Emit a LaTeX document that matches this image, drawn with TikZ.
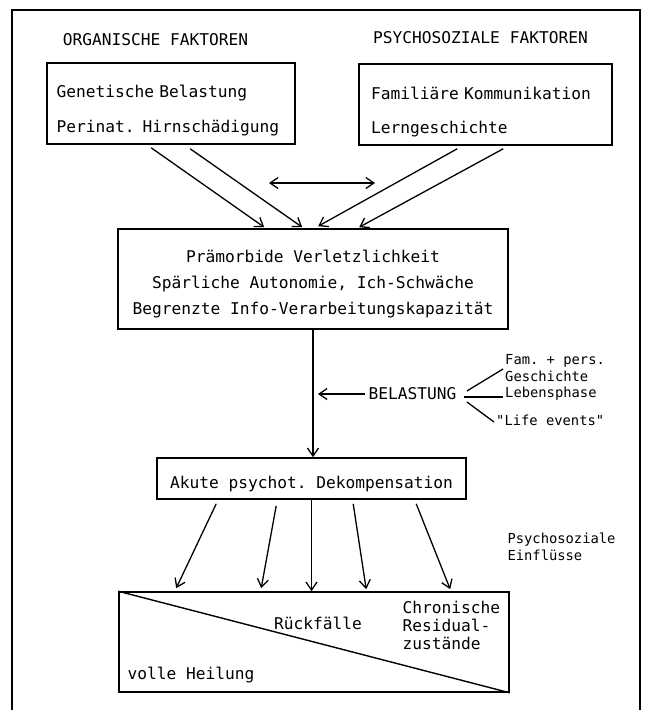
\documentclass[tikz,border=0pt]{standalone}
\usepackage{fontspec}
\setmonofont{DejaVu Sans Mono}
\usetikzlibrary{arrows.meta,calc}

\tikzset{
	box/.style={draw,line width=1.6pt,inner sep=0pt},
	barb/.tip={Straight Barb[length=8pt,width=11pt,line width=1.3pt]},
	arr/.style={line width=1.3pt,-barb},
	dblarr/.style={line width=1.3pt,barb-barb},
	bigtxt/.style={font=\ttfamily\fontsize{16.2}{19}\selectfont},
	smalltxt/.style={font=\ttfamily\fontsize{13.8}{17}\selectfont},
}
\newcommand{\down}[1]{\rule{0pt}{#1}}

\begin{document}
\begin{tikzpicture}[x=1pt,y=-1pt]
		\useasboundingbox (0,0) rectangle (650,710);
		\draw[line width=1.8pt] (12,710) -- (12,10) -- (640,10) -- (640,710);
		
		\node (orgtitle) [bigtxt] at (155.5,40) {ORGANISCHE FAKTOREN};
		\node (psytitle) [bigtxt] at (480.5,38) {PSYCHOSOZIALE FAKTOREN};
		
		\node (org) [box,bigtxt,minimum width=248pt,minimum height=81pt,text width=229pt,align=left] at (171,103.5)
			{\down{26pt}Genetische Belastung\\[16pt]Perinat. Hirnschädigung};
		\node (psy) [box,bigtxt,minimum width=253pt,minimum height=81pt,text width=229pt,align=left] at (485.5,104.5)
			{\down{28pt}Familiäre Kommunikation\\[15pt]Lerngeschichte};
		\node (praem) [box,bigtxt,minimum width=390pt,minimum height=100pt,align=center] at (313,279)
			{\down{22pt}Prämorbide Verletzlichkeit\\[7pt]Spärliche Autonomie, Ich-Schwäche\\[7pt]Begrenzte Info-Verarbeitungskapazität};
		
		\draw[arr] ($(org.south west)+(105,3)$) -- ($(praem.north west)+(147,-1)$);
		\draw[arr] ($(org.south west)+(144,4)$) -- ($(praem.north west)+(185,-1)$);
		\draw[arr] ($(psy.south west)+(99,3)$) -- ($(praem.north west)+(201,-2)$);
		\draw[arr] ($(psy.south west)+(145,3)$) -- ($(praem.north west)+(242,-1)$);
		\coordinate (wechsel-l) at (269,183);
		\coordinate (wechsel-r) at (375,183);
		\draw[dblarr] (wechsel-l) -- (wechsel-r);
		
		\node (akut) [box,bigtxt,minimum width=309pt,minimum height=41pt] at (311.5,478.5)
			{\down{24pt}Akute psychot. Dekompensation};
		\draw[arr] (praem.south) -- (praem.south |- akut.north);
		
		% Belastung
		\node (belast) [bigtxt] at (412.5,394) {BELASTUNG};
		\coordinate (stress) at (318,394);
		\draw[arr] (belast.west) -- (stress);
		\node (famgesch) [smalltxt,anchor=west,align=left,inner sep=2pt] at (503,368.5) {Fam. + pers.\\Geschichte};
		\node (lebens) [smalltxt,anchor=west,inner sep=2pt] at (503,394) {Lebensphase};
		\node (life) [smalltxt,anchor=west,inner sep=2pt] at (494,420) {"Life events"};
		\draw[line width=1.3pt] ($(belast.east)+(7,-3)$) -- ($(famgesch.west)+(0,0.5)$);
		\draw[line width=1.3pt] ($(belast.east)+(4,3)$) -- ($(lebens.west)+(0,3)$);
		\draw[line width=1.3pt] ($(belast.east)+(7,8)$) -- ($(life.west)+(0,2)$);
		
		\node (einfl) [smalltxt,anchor=west,align=left] at (504,547) {Psychosoziale\\Einflüsse};
		
		% Verlauf
		\node (verlauf) [box,minimum width=390pt,minimum height=100pt] at (314,642) {};
		\draw[line width=1.4pt] (verlauf.north west) -- (verlauf.south east);
		\draw[arr] ($(akut.south west)+(60,4)$) -- ($(verlauf.north west)+(58,-3)$);
		\draw[arr] ($(akut.south west)+(120,6)$) -- ($(verlauf.north west)+(143,-3)$);
		\draw[arr] (akut.south) -- (akut.south |- verlauf.north);
		\draw[arr] ($(akut.south west)+(197,4)$) -- ($(verlauf.north west)+(248,-2)$);
		\draw[arr] ($(akut.south west)+(260,4)$) -- ($(verlauf.north west)+(332,-2)$);
		\node (rueck) [bigtxt] at (318,623) {Rückfälle};
		\node (chron) [anchor=west,align=left,font=\ttfamily\fontsize{16.2}{18}\selectfont] at (399,625) {Chronische\\Residual-\\zustände};
		\node (heil) [bigtxt,anchor=west] at (124,675) {volle Heilung};
\end{tikzpicture}
\end{document}
